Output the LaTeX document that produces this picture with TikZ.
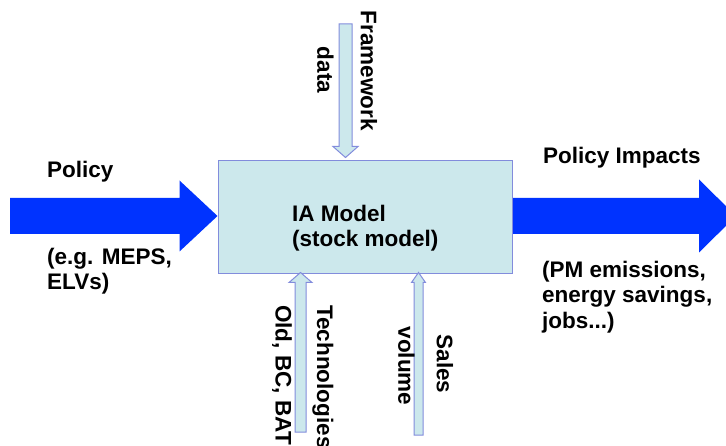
\documentclass[tikz,border=0pt]{standalone}
\usepackage{fontspec}
\setmainfont{Liberation Sans}
\usepackage{tikz}
\usetikzlibrary{calc,positioning}
\definecolor{policyblue}{RGB}{0,51,255}
\definecolor{modelfill}{RGB}{204,232,236}
\definecolor{modeldraw}{RGB}{130,140,220}
\tikzstyle{bigarrow}   = [fill=policyblue, draw=none]
\tikzstyle{smallarrow} = [fill=modelfill, draw=modeldraw, line width=1pt, line join=miter]
\tikzstyle{lbl}        = [font=\fontsize{22.5}{25.5}\selectfont\bfseries, inner sep=0pt, align=left]

\begin{document}
\begin{tikzpicture}[x=1pt,y=-1pt,
		vlbl/.style={lbl, rotate=-90},
		modelbox/.style={draw=modeldraw, fill=modelfill, line width=1pt, minimum width=294pt, minimum height=113pt, inner sep=0pt}]
	\useasboundingbox (0,0) rectangle (726,446);

	\node[modelbox] (model) at (365,217.5) {};
	\node[lbl, anchor=west] (modeltxt) at (292,228) {IA Model\\(stock model)};

	% policy in, impacts out
	\coordinate (polin) at (10,216);
	\coordinate (poltip) at (model.west |- polin);
	\draw[bigarrow] ($(polin)+(0,-18)$) -- ($(poltip)+(-38,-18)$) -- ($(poltip)+(-38,-35.5)$) -- (poltip)
		-- ($(poltip)+(-38,35.5)$) -- ($(poltip)+(-38,18)$) -- ($(polin)+(0,18)$) -- cycle;
	\coordinate (impbase) at ([xshift=0.5pt]model.east |- polin);
	\coordinate (imptip) at (736,216);
	\draw[bigarrow] ($(impbase)+(0,-18)$) -- ($(imptip)+(-37,-18)$) -- ($(imptip)+(-37,-36.5)$) -- (imptip)
		-- ($(imptip)+(-37,36.5)$) -- ($(imptip)+(-37,18)$) -- ($(impbase)+(0,18)$) -- cycle;

	% framework data from above
	\coordinate (fwtop) at (345.5,24);
	\coordinate (fwtip) at ([yshift=3pt]model.north -| fwtop);
	\draw[smallarrow] ($(fwtop)+(-6.5,0)$) -- ($(fwtip)+(-6.5,-11)$) -- ($(fwtip)+(-12.5,-11)$) -- (fwtip)
		-- ($(fwtip)+(12.5,-11)$) -- ($(fwtip)+(6.5,-11)$) -- ($(fwtop)+(6.5,0)$) -- cycle;

	% technologies and sales from below
	\coordinate (techfoot) at (300.5,432);
	\coordinate (techtip) at ([yshift=2pt]model.south -| techfoot);
	\draw[smallarrow] ($(techfoot)+(-5.5,0)$) -- ($(techtip)+(-5.5,10)$) -- ($(techtip)+(-11.5,10)$) -- (techtip)
		-- ($(techtip)+(11.5,10)$) -- ($(techtip)+(5.5,10)$) -- ($(techfoot)+(5.5,0)$) -- cycle;
	\coordinate (salesfoot) at (418.5,435);
	\coordinate (salestip) at ([yshift=2pt]model.south -| salesfoot);
	\draw[smallarrow] ($(salesfoot)+(-4.5,0)$) -- ($(salestip)+(-4.5,10)$) -- ($(salestip)+(-7,10)$) -- (salestip)
		-- ($(salestip)+(7,10)$) -- ($(salestip)+(4.5,10)$) -- ($(salesfoot)+(4.5,0)$) -- cycle;

	\node[lbl, anchor=west] (poltxt) at (47,172) {Policy};
	\node[lbl, anchor=west] (polex) at (47,271) {(e.g. MEPS,\\ELVs)};
	\node[lbl, anchor=west] (imptxt) at (543,158) {Policy Impacts};
	\node[lbl, anchor=west] (impex) at (542,297) {(PM emissions,\\energy savings,\\jobs...)};
	\node[vlbl] (fwtxt) at (369,71) {Framework};
	\node[vlbl] (datatxt) at (325.5,70) {data};
	\node[vlbl, anchor=west] (techtxt) at (323,305) {Technologies};
	\node[vlbl, anchor=west] (oldtxt) at (282,305) {Old, BC, BAT};
	\node[vlbl] (salestxt) at (445,364) {Sales};
	\node[vlbl] (voltxt) at (406.5,366) {volume};
\end{tikzpicture}
\end{document}
